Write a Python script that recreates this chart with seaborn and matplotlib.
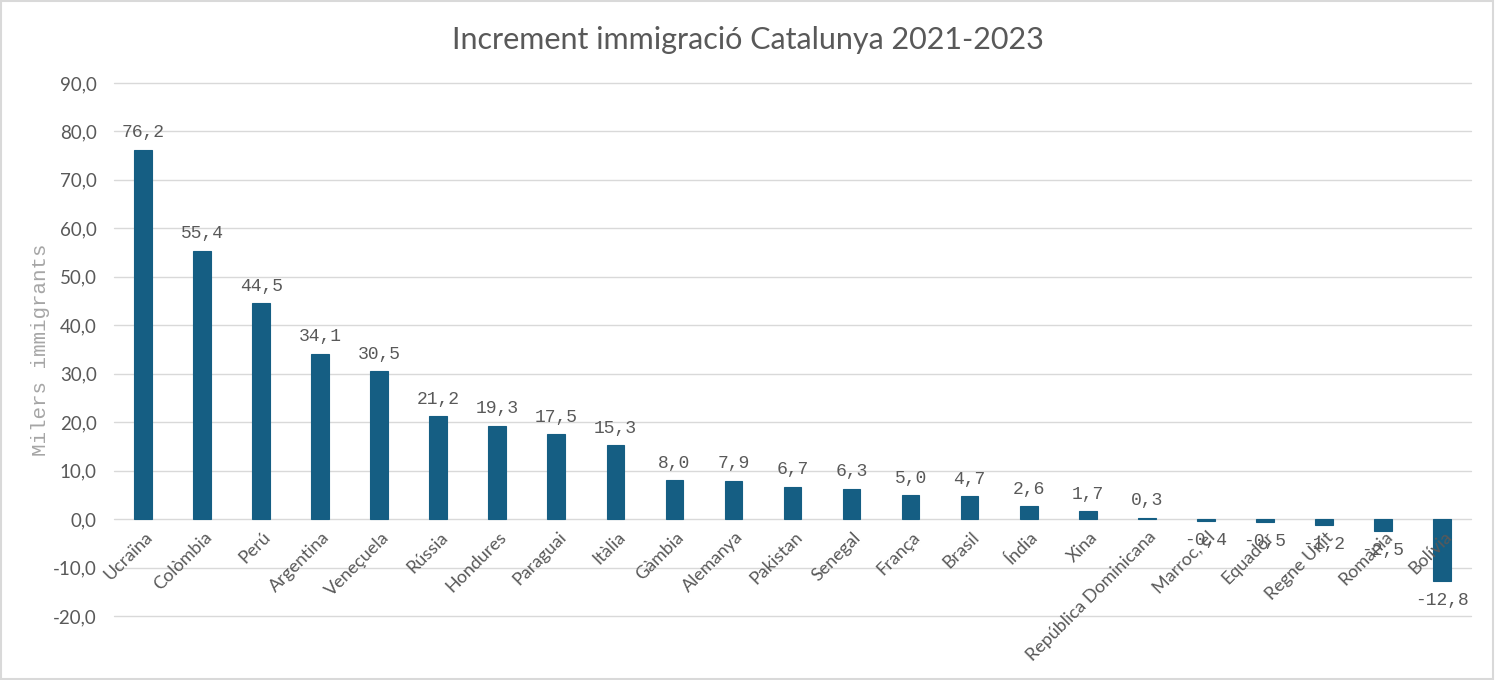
import numpy as np
import pandas as pd
import matplotlib
matplotlib.use("Agg")
import matplotlib.pyplot as plt
import seaborn as sns
from matplotlib.patches import Rectangle

# Data
countries = ["Ucraïna", "Colòmbia", "Perú", "Argentina", "Veneçuela", "Rússia",
             "Hondures", "Paraguai", "Itàlia", "Gàmbia", "Alemanya", "Pakistan",
             "Senegal", "França", "Brasil", "Índia", "Xina", "República Dominicana",
             "Marroc, el", "Equador", "Regne Unit", "Romania", "Bolívia"]
increments = [76.2, 55.4, 44.5, 34.1, 30.5, 21.2, 19.3, 17.5, 15.3, 8.0, 7.9, 6.7,
              6.3, 5.0, 4.7, 2.6, 1.7, 0.3, -0.4, -0.5, -1.2, -2.5, -12.8]
y_ticks = [-20, -10, 0, 10, 20, 30, 40, 50, 60, 70, 80, 90]

df = pd.DataFrame({"country": countries, "value": increments})

sns.set_theme(style="white")
plt.rcParams["font.family"] = ["Lato", "DejaVu Sans"]

text_grey = "#595959"
bar_color = "#155E83"

fig = plt.figure(figsize=(14.96, 6.8), dpi=100)
ax = fig.add_axes([0.0759, 0.0941, 0.9077, 0.784])

sns.barplot(data=df, x="country", y="value", color=bar_color, width=0.3,
            saturation=1, ax=ax, zorder=3, edgecolor=bar_color, linewidth=0.8)

ax.set_ylim(-20, 90)
ax.set_xlim(-0.5, len(countries) - 0.5)
ax.set_yticks(y_ticks)
ax.set_yticklabels([f"{v:.1f}".replace(".", ",") for v in y_ticks],
                   fontsize=13.5, color=text_grey)
ax.yaxis.grid(True, color="#D9D9D9", linewidth=1, zorder=0)
for gl in ax.get_ygridlines():
    gl.set_clip_on(False)
ax.xaxis.grid(False)
for s in ax.spines.values():
    s.set_visible(False)
ax.tick_params(axis="y", length=0, pad=12)
ax.tick_params(axis="x", length=0)

# x labels rotated and hanging from the zero line
ax.set_xticks(range(len(countries)))
ax.set_xticklabels([])
for i, name in enumerate(countries):
    ax.annotate(name, xy=(i, 0), xycoords="data", xytext=(1, -7),
                textcoords="offset points", rotation=45, ha="right", va="top",
                rotation_mode="anchor", fontsize=13, color=text_grey)

# value labels
for i, v in enumerate(increments):
    lbl = f"{v:.1f}".replace(".", ",")
    if v >= 0:
        ax.annotate(lbl, xy=(i, v), xytext=(0, 6), textcoords="offset points",
                    ha="center", va="bottom", fontsize=13, color=text_grey,
                    family="Liberation Mono")
    else:
        ax.annotate(lbl, xy=(i, v), xytext=(0, -8), textcoords="offset points",
                    ha="center", va="top", fontsize=13, color=text_grey,
                    family="Liberation Mono")

ax.set_xlabel("")
ax.set_ylabel("Milers immigrants", fontsize=15, color="#A6A6A6",
              family="Liberation Mono")
ax.yaxis.set_label_coords(-0.0468, 0.5)
fig.suptitle("Increment immigració Catalunya 2021-2023", fontsize=22,
             color=text_grey, x=0.5, y=0.962)

# chart border
fig.patches.append(Rectangle((0.001, 0.001), 0.997, 0.997, transform=fig.transFigure,
                             fill=False, edgecolor="#D9D9D9", linewidth=1.5))

fig.savefig("out.png", dpi=100)
